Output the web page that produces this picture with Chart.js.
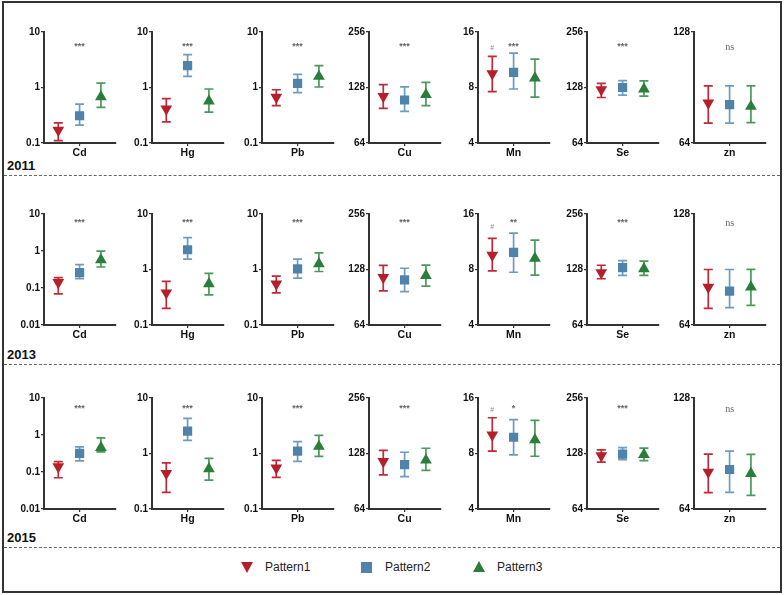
<!DOCTYPE html>
<html>
<head>
<meta charset="utf-8">
<script src="https://cdn.jsdelivr.net/npm/chart.js@4/dist/chart.umd.min.js"></script>
<style>
  body { margin: 0; background: #fff; width: 784px; height: 595px; position: relative; overflow: hidden; font-family: "Liberation Sans", Arial, sans-serif; }
  #frame { position: absolute; left: 2px; top: 1px; width: 776px; height: 588px; border: 2px solid #333; }
  .year { position: absolute; left: 7px; font-weight: bold; font-size: 13px; color: #111; line-height: 14px; }
  .dash { position: absolute; left: 4px; width: 776px; height: 0; border-top: 1px dashed #666; }
  canvas { position: absolute; }
  .leg { position: absolute; top: 560px; font-size: 12px; color: #222; line-height: 14px; }
  .tri-down { position: absolute; width: 0; height: 0; border-left: 6px solid transparent; border-right: 6px solid transparent; border-top: 11px solid #b41f2b; }
  .tri-up { position: absolute; width: 0; height: 0; border-left: 6px solid transparent; border-right: 6px solid transparent; border-bottom: 11px solid #2a7d3a; }
  .sq { position: absolute; width: 11px; height: 11px; background: #4f83a9; }
</style>
</head>
<body>
<div id="frame"></div>
<div class="year" style="top:159px">2011</div>
<div class="year" style="top:348px">2013</div>
<div class="year" style="top:531px">2015</div>
<div class="dash" style="top:175px"></div>
<div class="dash" style="top:364px"></div>
<div class="dash" style="top:547px"></div>

<div class="tri-down" style="left:241px; top:562px"></div>
<div class="leg" style="left:265px">Pattern1</div>
<div class="sq" style="left:361px; top:562px"></div>
<div class="leg" style="left:385px">Pattern2</div>
<div class="tri-up" style="left:473px; top:561px"></div>
<div class="leg" style="left:497px">Pattern3</div>

<script>
// data
var years = ['2011', '2013', '2015'];
var elements = ['Cd', 'Hg', 'Pb', 'Cu', 'Mn', 'Se', 'zn'];
var patterns = ['Pattern1', 'Pattern2', 'Pattern3'];

// [Pattern1, Pattern2, Pattern3] for each element
var mean2011 = [[0.17, 0.31, 0.68], [0.41, 2.47, 0.57], [0.67, 1.19, 1.58], [114.5, 109.5, 117], [9.5, 9.66, 9.0], [124.5, 128, 125.6], [82.2, 81.3, 80.4]];
var low2011 = [[0.11, 0.21, 0.44], [0.24, 1.59, 0.36], [0.47, 0.81, 1.02], [98.6, 95, 102], [7.6, 7.85, 7.1], [113, 116.5, 115], [72.5, 72.5, 72.7]];
var high2011 = [[0.23, 0.50, 1.2], [0.63, 3.9, 0.94], [0.91, 1.72, 2.47], [132.6, 129, 136.5], [11.8, 12.3, 11.4], [134.7, 139.4, 139], [91.4, 91.4, 91.4]];

var mean2013 = [[0.142, 0.26, 0.58], [0.38, 2.27, 0.55], [0.55, 1.03, 1.27], [116, 112.5, 118.7], [9.57, 9.9, 9.2], [123, 131, 129], [81.1, 79.1, 81.1]];
var low2013 = [[0.069, 0.18, 0.37], [0.20, 1.54, 0.35], [0.38, 0.70, 0.92], [98, 97, 104], [7.87, 7.73, 7.45], [114, 119, 119], [71, 71.3, 72.3]];
var high2013 = [[0.19, 0.43, 0.99], [0.61, 3.74, 0.85], [0.76, 1.54, 2.0], [134.6, 130, 135.1], [11.8, 12.6, 11.55], [135, 143, 142], [90.5, 90.5, 90.6]];

var mean2015 = [[0.139, 0.32, 0.46], [0.44, 2.53, 0.53], [0.55, 1.1, 1.34], [115.8, 111.5, 117.7], [10.1, 9.8, 9.5], [124.7, 127, 126.3], [80.6, 81.9, 79.8]];
var low2015 = [[0.07, 0.2, 0.35], [0.2, 1.72, 0.33], [0.37, 0.72, 0.89], [98, 96, 103.6], [8.24, 7.87, 7.73], [115, 118.6, 117], [70.9, 71, 69.7]];
var high2015 = [[0.19, 0.48, 0.84], [0.68, 4.3, 0.82], [0.75, 1.63, 2.12], [133.2, 130, 136.7], [12.5, 12.2, 12.1], [133.8, 137.7, 137], [90.2, 91.9, 90]];

// y axis ticks per element (Cd differs in 2013/2015)
var ticksCd2011 = [0.1, 1, 10];
var ticksCd = [0.01, 0.1, 1, 10];
var ticksHgPb = [0.1, 1, 10];
var ticksCuSe = [64, 128, 256];
var ticksMn = [4, 8, 16];
var ticksZn = [64, 128];

// significance labels
var stars2011 = ['***', '***', '***', '***', '***', '***', 'ns'];
var stars2013 = ['***', '***', '***', '***', '**', '***', 'ns'];
var stars2015 = ['***', '***', '***', '***', '*', '***', 'ns'];

var means = [mean2011, mean2013, mean2015];
var lows = [low2011, low2013, low2015];
var highs = [high2011, high2013, high2015];
var stars = [stars2011, stars2013, stars2015];

var panelX = [44, 152, 262, 369, 478, 587, 694];
var rowTop = [32, 214, 398];
var starDy = [15, 9, 11];
var hashDy = [16, 13.5, 12.5];

var colors = ['#b41f2b', '#4f83a9', '#2a7d3a'];
var barColors = ['#bf2a36', '#6d9cc0', '#4a9a5a'];
var styles = ['triangle', 'rect', 'triangle'];
var rotations = [180, 0, 0];
var radii = [6.8, 6.5, 6.8];

function ticksFor(row, col) {
    if (col == 0) return row == 0 ? ticksCd2011 : ticksCd;
    if (col == 1 || col == 2) return ticksHgPb;
    if (col == 3 || col == 5) return ticksCuSe;
    if (col == 4) return ticksMn;
    return ticksZn;
}

var errorBars = {
    id: 'errorBars',
    beforeDatasetsDraw: function (chart) {
        var ctx = chart.ctx;
        var xs = chart.scales.x, ys = chart.scales.y;
        chart.data.datasets.forEach(function (ds) {
            var x = xs.getPixelForValue(ds.data[0].x);
            var y1 = ys.getPixelForValue(ds.lo);
            var y2 = ys.getPixelForValue(ds.hi);
            ctx.save();
            ctx.strokeStyle = ds.barColor;
            ctx.lineWidth = 1.7;
            ctx.beginPath();
            ctx.moveTo(x, y1); ctx.lineTo(x, y2);
            ctx.moveTo(x - 4.5, y1); ctx.lineTo(x + 4.5, y1);
            ctx.moveTo(x - 4.5, y2); ctx.lineTo(x + 4.5, y2);
            ctx.stroke();
            ctx.restore();
        });
    }
};

var starLabels = {
    id: 'starLabels',
    afterDraw: function (chart) {
        var o = chart.options.plugins.starLabels;
        var ctx = chart.ctx;
        var a = chart.chartArea;
        var xs = chart.scales.x;
        ctx.save();
        ctx.textAlign = 'center';
        ctx.textBaseline = 'middle';
        ctx.fillStyle = '#666';
        if (o.text == 'ns') {
            ctx.font = '10px "Liberation Serif", serif';
        } else {
            ctx.font = 'bold 9px "Liberation Sans", Arial, sans-serif';
        }
        ctx.fillText(o.text, xs.getPixelForValue(2), a.top + o.dy);
        if (o.hash) {
            ctx.font = '7px "Liberation Sans", Arial, sans-serif';
            ctx.fillStyle = '#888';
            ctx.fillText('#', xs.getPixelForValue(1), a.top + o.hashDy);
        }
        ctx.restore();
    }
};

for (var r = 0; r < years.length; r++) {
    for (var c = 0; c < elements.length; c++) {
        var cv = document.createElement('canvas');
        cv.width = 118;
        cv.height = 143;
        cv.style.left = (panelX[c] - 40) + 'px';
        cv.style.top = (rowTop[r] - 10) + 'px';
        document.body.appendChild(cv);

        var yt = ticksFor(r, c);
        var ds = [];
        for (var p = 0; p < patterns.length; p++) {
            ds.push({
                label: patterns[p],
                data: [{ x: p + 1, y: means[r][c][p] }],
                lo: lows[r][c][p],
                hi: highs[r][c][p],
                barColor: barColors[p],
                pointStyle: styles[p],
                rotation: rotations[p],
                pointRadius: radii[p],
                backgroundColor: colors[p],
                borderColor: colors[p],
                borderWidth: 0,
                showLine: false
            });
        }

        (function (yt, el) {
            new Chart(cv.getContext('2d'), {
                type: 'scatter',
                data: { datasets: ds },
                options: {
                    responsive: false,
                    animation: false,
                    devicePixelRatio: 1,
                    layout: { padding: { top: 10, right: 3, left: 0, bottom: 0 } },
                    plugins: {
                        legend: { display: false },
                        tooltip: { enabled: false },
                        starLabels: { text: stars[r][c], dy: starDy[r], hash: c == 4, hashDy: hashDy[r] }
                    },
                    scales: {
                        x: {
                            type: 'linear',
                            min: 0.33,
                            max: 3.67,
                            afterBuildTicks: function (s) { s.ticks = [{ value: 2 }]; },
                            afterFit: function (s) { s.height = 22; },
                            ticks: {
                                callback: function () { return el; },
                                font: { family: '"Liberation Sans", Arial, sans-serif', weight: 'bold', size: 10.5 },
                                color: '#111',
                                padding: 1,
                                maxRotation: 0
                            },
                            grid: { drawOnChartArea: false, drawTicks: true, tickLength: 3, color: '#333', lineWidth: 1.2 },
                            border: { color: '#333', width: 2 }
                        },
                        y: {
                            type: 'logarithmic',
                            min: yt[0],
                            max: yt[yt.length - 1],
                            afterBuildTicks: function (s) { s.ticks = yt.map(function (v) { return { value: v }; }); },
                            afterFit: function (s) { s.width = 40; },
                            ticks: {
                                callback: function (v) { return String(v); },
                                font: { family: '"Liberation Sans", Arial, sans-serif', weight: 'bold', size: 10 },
                                color: '#111',
                                padding: 1,
                                autoSkip: false
                            },
                            grid: { drawOnChartArea: false, drawTicks: true, tickLength: 3, color: '#333', lineWidth: 1.2 },
                            border: { color: '#333', width: 2 }
                        }
                    }
                },
                plugins: [errorBars, starLabels]
            });
        })(yt, elements[c]);
    }
}
</script>
</body>
</html>
